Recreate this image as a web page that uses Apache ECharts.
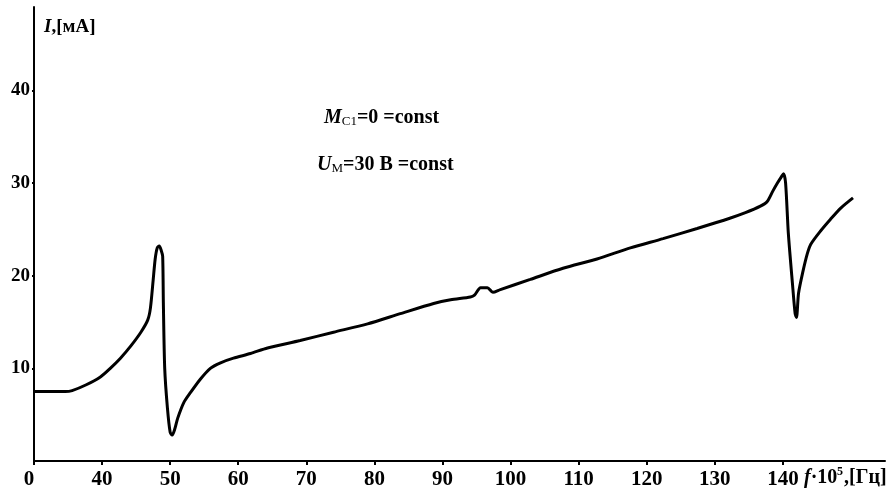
<!DOCTYPE html>
<html>
<head>
<meta charset="utf-8">
<script src="https://cdn.jsdelivr.net/npm/echarts@6/dist/echarts.min.js"></script>
<style>
html,body{margin:0;padding:0;background:#fff;}
#c{width:891px;height:497px;}
</style>
</head>
<body>
<div id="c"></div>
<script>
// frequency f·10^5 [Hz] (axis origin 30 is labelled "0")
var freq = [30.0,32.4,34.6,35.6,37.6,39.8,41.2,42.7,44.2,45.7,46.7,47.1,47.5,47.8,48.1,48.4,48.7,48.9,49.0,49.2,49.6,50.0,50.3,50.7,51.1,52.0,53.0,54.4,55.9,57.4,59.3,61.8,64.3,69.1,74.0,79.0,83.8,88.7,91.2,94.1,94.7,95.6,96.6,97.4,98.5,102.9,107.7,112.7,117.6,122.4,127.4,132.2,134.5,136.7,137.7,138.5,139.2,139.8,140.1,140.4,140.8,141.4,141.8,142.0,142.3,142.9,143.6,144.1,145.5,147.0,148.5,150.3];
// current I [mA]
var current = [7.5,7.5,7.5,7.6,8.2,9.1,10.0,11.1,12.4,13.9,15.2,16.5,19.5,21.8,23.0,23.2,22.7,22.1,17.1,10.0,5.7,3.1,2.8,3.5,4.6,6.3,7.4,8.8,10.0,10.6,11.1,11.6,12.2,13.0,13.9,14.8,15.9,17.0,17.4,17.7,17.9,18.7,18.7,18.2,18.5,19.6,20.8,21.8,23.0,24.0,25.1,26.2,26.8,27.5,28.0,29.1,30.0,30.7,31.0,30.0,24.6,19.2,15.9,15.5,18.1,20.3,22.4,23.4,24.8,26.1,27.3,28.4];
var xTicks = [30,40,50,60,70,80,90,100,110,120,130,140];
var yTicks = [10,20,30,40];

var pts = freq.map(function(f,i){return [f,current[i]];});
var serif = '"Liberation Serif","DejaVu Serif",serif';
var chart = echarts.init(document.getElementById('c'), null, {renderer:'canvas'});
chart.setOption({
  backgroundColor:'#fff',
  animation:false,
  grid:{left:34,right:6,top:7,bottom:36,containLabel:false},
  xAxis:{
    type:'value', min:30, max:155, interval:10,
    splitLine:{show:false},
    axisLine:{lineStyle:{color:'#000',width:2}},
    axisTick:{customValues:xTicks, length:4, lineStyle:{color:'#000',width:2}},
    axisLabel:{customValues:xTicks, margin:8, color:'#000', fontFamily:serif, fontWeight:'bold', fontSize:21,
      formatter:function(v){return v===30?'{z|0}':String(v);},
      rich:{z:{fontFamily:serif,fontWeight:'bold',fontSize:21,color:'#000',padding:[0,10,0,0]}}}
  },
  yAxis:{
    type:'value', min:0, max:49, interval:10,
    splitLine:{show:false},
    axisLine:{lineStyle:{color:'#000',width:2}},
    axisTick:{customValues:yTicks, length:2, lineStyle:{color:'#000',width:2}},
    axisLabel:{customValues:yTicks, margin:4, color:'#000', fontFamily:serif, fontWeight:'bold', fontSize:19}
  },
  series:[{
    type:'line', data:pts, showSymbol:false, smooth:0.25,
    lineStyle:{color:'#000',width:3}
  }],
  graphic:[
    {type:'text', left:44, top:18, style:{
      text:'{i|I},[мА]', font:'bold 19px '+serif, fill:'#000',
      rich:{i:{fontStyle:'italic',fontWeight:'bold',fontSize:19,fontFamily:serif,fill:'#000'}}}},
    {type:'text', left:324, top:108, style:{
      text:'{i|M}{s|C1}=0 =const', font:'bold 20px '+serif, fill:'#000',
      rich:{i:{fontStyle:'italic',fontWeight:'bold',fontSize:20,fontFamily:serif},
            s:{fontSize:13,fontFamily:serif,verticalAlign:'bottom',padding:[6,0,0,0]}}}},
    {type:'text', left:317, top:155, style:{
      text:'{i|U}{s|М}=30 В =const', font:'bold 20px '+serif, fill:'#000',
      rich:{i:{fontStyle:'italic',fontWeight:'bold',fontSize:20,fontFamily:serif},
            s:{fontSize:13,fontFamily:serif,verticalAlign:'bottom',padding:[6,0,0,0]}}}},
    {type:'group', left:804, top:466, children:[
      {type:'text', x:0, y:2, style:{text:'{i|f}·10', font:'bold 20px '+serif, fill:'#000',
        rich:{i:{fontStyle:'italic',fontWeight:'bold',fontSize:20,fontFamily:serif}}}},
      {type:'text', x:33, y:0, style:{text:'5', font:'bold 12px '+serif, fill:'#000'}},
      {type:'text', x:40, y:2, style:{text:',[Гц]', font:'bold 20px '+serif, fill:'#000'}}
    ]}
  ]
});
</script>
</body>
</html>
